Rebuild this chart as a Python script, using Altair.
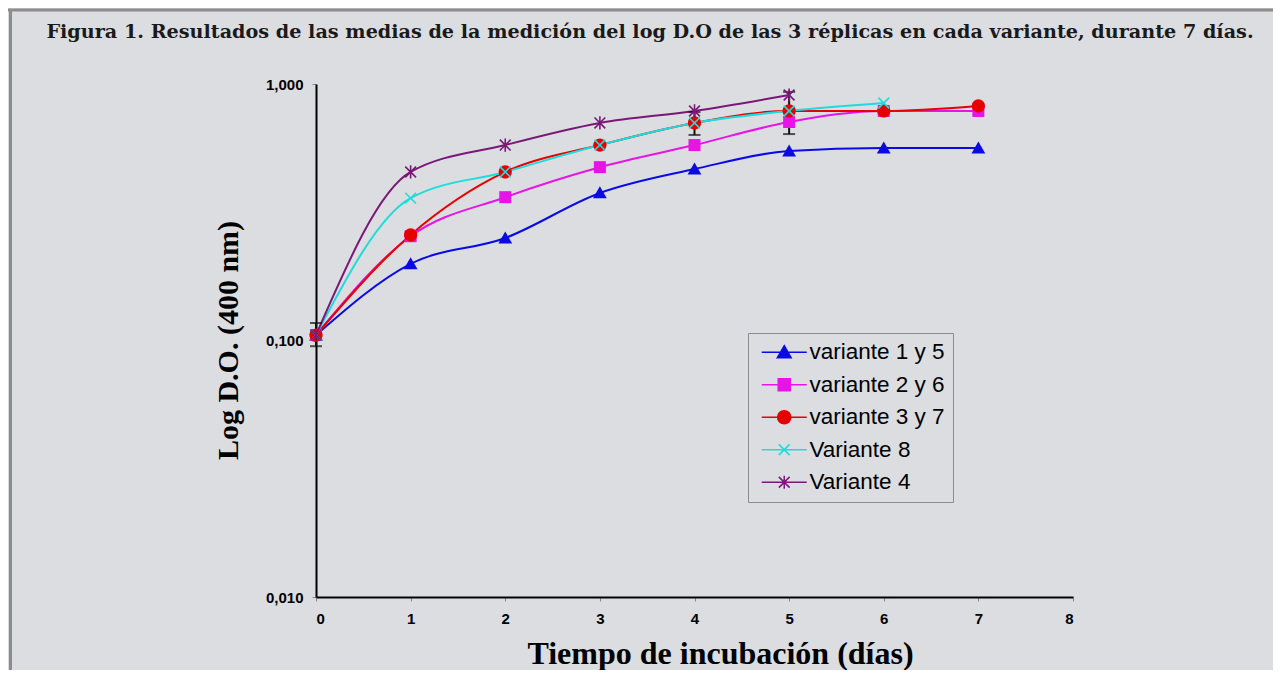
import altair as alt
import pandas as pd

# ---- data ----
series_names = ["variante 1 y 5", "variante 2 y 6", "variante 3 y 7", " Variante 8", "Variante 4"]
series_colors = ["#0a0ae6", "#e614e6", "#e60000", "#1edcdc", "#7a1878"]
series_fill = ["#0a0ae6", "#e614e6", "#e60000", "transparent", "transparent"]

days_1 = [0, 1, 2, 3, 4, 5, 6, 7]
vals_1 = [0.105, 0.199, 0.251, 0.376, 0.466, 0.548, 0.563, 0.563]
days_2 = [0, 1, 2, 3, 4, 5, 6, 7]
vals_2 = [0.105, 0.255, 0.362, 0.474, 0.578, 0.711, 0.785, 0.785]
days_3 = [0, 1, 2, 3, 4, 5, 6, 7]
vals_3 = [0.105, 0.258, 0.454, 0.578, 0.705, 0.785, 0.785, 0.821]
days_8 = [0, 1, 2, 3, 4, 5, 6]
vals_8 = [0.105, 0.359, 0.454, 0.578, 0.705, 0.785, 0.843]
days_4 = [0, 1, 2, 3, 4, 5]
vals_4 = [0.105, 0.454, 0.578, 0.705, 0.785, 0.906]

err_days = [0, 4, 5]
err_lo = [0.095, 0.633, 0.638]
err_hi = [0.117, 0.777, 0.932]

x_ticks = [0, 1, 2, 3, 4, 5, 6, 7, 8]
y_ticks = [0.01, 0.1, 1.0]

title_text = "Figura 1. Resultados de las medias de la medición del log D.O de las 3 réplicas en cada variante, durante 7 días."
x_title = "Tiempo de incubación (días)"
y_title = "Log D.O. (400 nm)"

rows = []
for name, ds, vs in zip(series_names,
                        [days_1, days_2, days_3, days_8, days_4],
                        [vals_1, vals_2, vals_3, vals_8, vals_4]):
    for d, v in zip(ds, vs):
        rows.append({"serie": name, "dia": d, "do": v})
df = pd.DataFrame(rows)
err_df = pd.DataFrame({"dia": err_days, "lo": err_lo, "hi": err_hi})
one_row = pd.DataFrame({"t": [title_text]})

# marker shapes (unit square -1..1)
marker_paths = [
    "M0,-1.1L1.15,0.9L-1.15,0.9Z",
    "M-1,-1H1V1H-1Z",
    "M1.1,0A1.1,1.1 0 1,1 -1.1,0A1.1,1.1 0 1,1 1.1,0Z",
    "M-0.9,-0.9L0.9,0.9M-0.9,0.9L0.9,-0.9",
    "M-0.9,-0.9L0.9,0.9M-0.9,0.9L0.9,-0.9M0,-1.1V1.1",
]
# legend glyphs: line segment with marker in the middle
legend_paths = [
    "M-0.92,0H6.58M2.83,-1.1L3.98,0.9L1.68,0.9Z",
    "M-0.92,0H6.58M1.83,-1H3.83V1H1.83Z",
    "M-0.92,0H6.58M3.93,0A1.1,1.1 0 1,1 1.73,0A1.1,1.1 0 1,1 3.93,0Z",
    "M-0.92,0H6.58M1.93,-0.9L3.73,0.9M1.93,0.9L3.73,-0.9",
    "M-0.92,0H6.58M1.93,-0.9L3.73,0.9M1.93,0.9L3.73,-0.9M2.83,-1.1V1.1",
]

W, H = 757, 513
PAD_L, PAD_T = 308, 76
TOTAL_W, TOTAL_H = 1265, 662

x_enc = alt.X("dia:Q",
              scale=alt.Scale(domain=[0, 8], nice=False),
              axis=alt.Axis(values=x_ticks, format="d", title=x_title,
                            titleX=404, titleY=66, titleBaseline="alphabetic",
                            titleFont="Liberation Serif", titleFontSize=32,
                            titleFontWeight="bold", titleColor="#000000",
                            labelPadding=10, grid=False))
y_scale = alt.Scale(type="log", domain=[0.01, 1], nice=False)
y_enc = alt.Y("do:Q", scale=y_scale,
              axis=alt.Axis(values=y_ticks, title=y_title,
                            labelExpr="replace(format(datum.value, '.3f'), '.', ',')",
                            titleX=-88, titleY=256, titleAngle=-90,
                            titleAlign="center", titleBaseline="middle",
                            titleFont="Liberation Serif", titleFontSize=30,
                            titleFontWeight="bold", titleColor="#000000",
                            labelPadding=9, grid=False))

# lines, one per series
line_layers = []
for i, (name, col) in enumerate(zip(series_names, series_colors)):
    line_layers.append(
        alt.Chart(df).transform_filter(alt.datum.serie == name).mark_line(
            interpolate="monotone", strokeWidth=2, color=col).encode(
            x=x_enc if i == 0 else alt.X("dia:Q"),
            y=y_enc if i == 0 else alt.Y("do:Q", scale=y_scale))
    )

err_rule = alt.Chart(err_df).mark_rule(color="#111111", strokeWidth=2).encode(
    x="dia:Q", y=alt.Y("lo:Q", scale=y_scale), y2="hi:Q")
err_lo_tick = alt.Chart(err_df).mark_tick(color="#111111", orient="horizontal",
                                          size=12, thickness=2).encode(
    x="dia:Q", y=alt.Y("lo:Q", scale=y_scale))
err_hi_tick = alt.Chart(err_df).mark_tick(color="#111111", orient="horizontal",
                                          size=12, thickness=2).encode(
    x="dia:Q", y=alt.Y("hi:Q", scale=y_scale))

# marker layers, one per series (each with its own marker shape)
point_layers = []
for name, path, col, filled in zip(series_names, marker_paths, series_colors,
                                   [True, True, True, False, False]):
    point_layers.append(
        alt.Chart(df).transform_filter(alt.datum.serie == name).mark_point(
            shape=path, size=144, strokeWidth=1.6, opacity=1, filled=filled,
            color=col).encode(
            x="dia:Q", y=alt.Y("do:Q", scale=y_scale))
    )

legend = alt.Legend(
    title=None, orient="none", legendX=432, legendY=249,
    strokeColor="#8c8c8c", padding=8, fillColor="#dcdde0",
    labelFont="Liberation Sans", labelFontSize=22.5, labelColor="#000000",
    labelOffset=31, symbolSize=144, symbolStrokeWidth=1.5, symbolOpacity=1,
    labelLimit=300,
)

# legend-only layer (no rows drawn): provides line+marker glyphs
legend_layer = alt.Chart(df).transform_filter("false").mark_point(
    size=144, strokeWidth=1.6, opacity=1).encode(
    x="dia:Q", y=alt.Y("do:Q", scale=y_scale),
    stroke=alt.Stroke("serie:N", scale=alt.Scale(domain=series_names, range=series_colors), legend=legend),
    fill=alt.Fill("serie:N", scale=alt.Scale(domain=series_names, range=series_fill), legend=legend),
    shape=alt.Shape("serie:N", scale=alt.Scale(domain=series_names, range=legend_paths), legend=legend),
)

title_layer = alt.Chart(one_row).mark_text(
    font="DejaVu Serif", fontSize=19.2, fontWeight="bold",
    color="#1a1a1a", align="center", baseline="alphabetic").encode(
    text="t:N", x=alt.value(334), y=alt.value(-46))

border_top = alt.Chart(one_row).mark_rule(color="#8c8c8c", strokeWidth=3).encode(
    x=alt.value(-PAD_L), x2=alt.value(TOTAL_W - PAD_L), y=alt.value(-PAD_T + 2))
border_left = alt.Chart(one_row).mark_rule(color="#8c8c8c", strokeWidth=3).encode(
    x=alt.value(-PAD_L + 2.5), y=alt.value(-PAD_T + 1), y2=alt.value(TOTAL_H - PAD_T))

chart = alt.layer(*line_layers, border_top, border_left, title_layer, err_rule, err_lo_tick,
                  err_hi_tick, *point_layers, legend_layer).properties(
    width=W, height=H,
    autosize=alt.AutoSizeParams(type="none"),
    padding={"left": PAD_L, "top": PAD_T, "right": TOTAL_W - PAD_L - W, "bottom": TOTAL_H - PAD_T - H},
    background="#dcdde0",
).configure_view(stroke=None).configure_axis(
    domainColor="#000000", domainWidth=2,
    tickColor="#888888", tickSize=4, tickWidth=1,
    labelFont="Liberation Sans", labelFontWeight="bold", labelFontSize=15,
    labelColor="#000000",
).configure_legend(rowPadding=9.5)

chart.save("out.html", embed_options={"renderer": "svg", "actions": False})
